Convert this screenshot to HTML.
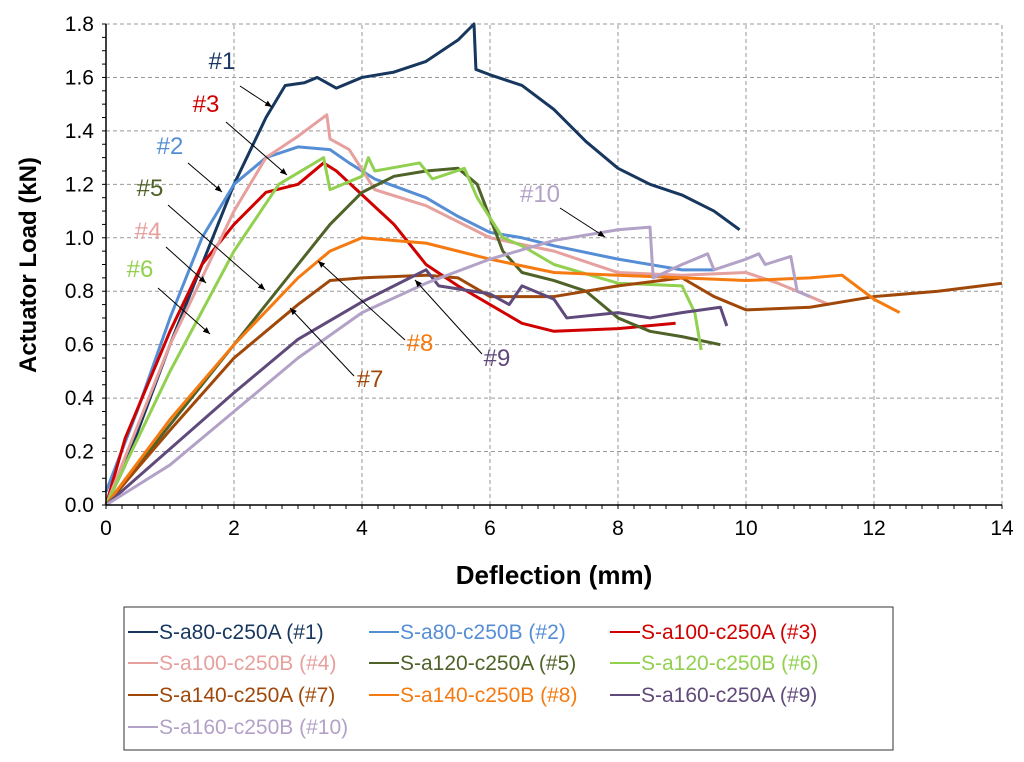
<!DOCTYPE html>
<html><head><meta charset="utf-8"><style>
html,body{margin:0;padding:0;background:#fff;}
svg{display:block;font-family:"Liberation Sans",Arial,sans-serif;}
</style></head><body>
<svg id="chart" width="1024" height="762"></svg>
<script>
const xTicks=[0,2,4,6,8,10,12,14];
const yTicks=[0,0.2,0.4,0.6,0.8,1.0,1.2,1.4,1.6,1.8];
const seriesNames=["S-a80-c250A (#1)","S-a80-c250B (#2)","S-a100-c250A (#3)","S-a100-c250B (#4)","S-a120-c250A (#5)","S-a120-c250B (#6)","S-a140-c250A (#7)","S-a140-c250B (#8)","S-a160-c250A (#9)","S-a160-c250B (#10)"];
const seriesColors=["#17375e","#558ed5","#d00000","#e6a09e","#4f6228","#92d050","#a0480a","#f57a10","#604a7b","#b3a2c7"];
const s1=[[0,0],[0.3,0.15],[1,0.6],[2,1.2],[2.5,1.45],[2.8,1.57],[3.1,1.58],[3.3,1.6],[3.6,1.56],[4,1.6],[4.5,1.62],[5,1.66],[5.5,1.74],[5.75,1.8],[5.78,1.63],[6,1.61],[6.5,1.57],[7,1.48],[7.5,1.36],[8,1.26],[8.5,1.2],[9,1.16],[9.5,1.1],[9.9,1.03]];
const s2=[[0,0.05],[0.5,0.36],[1,0.7],[1.5,1.0],[2,1.2],[2.5,1.3],[3,1.34],[3.5,1.33],[3.8,1.28],[4.2,1.22],[5,1.15],[5.5,1.08],[6,1.02],[6.5,1.0],[7,0.97],[8,0.92],[9,0.88],[9.5,0.88]];
const s3=[[0,0],[0.3,0.25],[1,0.65],[1.5,0.9],[2,1.05],[2.5,1.17],[3,1.2],[3.4,1.28],[3.6,1.25],[4.5,1.05],[5,0.9],[5.5,0.82],[6,0.75],[6.5,0.68],[7,0.65],[8,0.66],[8.9,0.68]];
const s4=[[0,0],[1,0.6],[2,1.1],[2.5,1.3],[3,1.38],[3.45,1.46],[3.5,1.37],[3.8,1.33],[4.2,1.18],[5,1.12],[6,1.0],[7,0.95],[8,0.87],[9,0.86],[10,0.87],[10.5,0.83],[11,0.78],[11.3,0.75]];
const s5=[[0,0],[1,0.3],[2,0.6],[3,0.9],[3.5,1.05],[4,1.17],[4.5,1.23],[5,1.25],[5.5,1.26],[5.8,1.2],[6.2,0.95],[6.5,0.87],[7,0.84],[7.5,0.8],[8,0.7],[8.5,0.65],[9,0.63],[9.6,0.6]];
const s6=[[0,0],[1,0.5],[2,0.95],[2.7,1.2],[3.4,1.3],[3.5,1.18],[4,1.23],[4.1,1.3],[4.2,1.25],[4.9,1.28],[5.1,1.22],[5.6,1.26],[5.8,1.15],[6.2,1.0],[6.5,0.97],[7,0.9],[8,0.83],[9,0.82],[9.2,0.72],[9.3,0.58]];
const s7=[[0,0],[1,0.28],[2,0.55],[3,0.75],[3.5,0.84],[4,0.85],[5,0.86],[5.5,0.85],[6,0.78],[7,0.78],[8,0.82],[9,0.85],[9.5,0.78],[10,0.73],[11,0.74],[12,0.78],[13,0.8],[14,0.83]];
const s8=[[0,0],[1,0.32],[2,0.6],[3,0.85],[3.5,0.95],[4,1.0],[4.5,0.99],[5,0.98],[5.5,0.95],[6,0.92],[7,0.87],[8,0.86],[9,0.85],[10,0.84],[11,0.85],[11.5,0.86],[12,0.77],[12.4,0.72]];
const s9=[[0,0],[2,0.42],[3,0.62],[4,0.76],[4.5,0.82],[5,0.88],[5.2,0.82],[6,0.79],[6.3,0.75],[6.5,0.82],[7,0.77],[7.2,0.7],[8,0.72],[8.5,0.7],[9,0.72],[9.6,0.74],[9.7,0.67]];
const s10=[[0,0],[1,0.15],[2,0.35],[3,0.55],[4,0.72],[5,0.83],[6,0.92],[7,0.99],[8,1.03],[8.5,1.04],[8.55,0.85],[9,0.9],[9.4,0.94],[9.5,0.88],[10,0.92],[10.2,0.94],[10.3,0.9],[10.7,0.93],[10.8,0.8],[11,0.78]];
const allSeries=[s1,s2,s3,s4,s5,s6,s7,s8,s9,s10];
const annoText=["#1","#2","#3","#4","#5","#6","#7","#8","#9","#10"];

const NS="http://www.w3.org/2000/svg";
const svg=document.getElementById('chart');
const X0=106,X1=1002,Y0=505,Y1=24;
const sx=v=>X0+(X1-X0)*v/14;
const sy=v=>Y0-(Y0-Y1)*v/1.8;
function mk(tag,attrs,parent){const e=document.createElementNS(NS,tag);for(const k in attrs)e.setAttribute(k,attrs[k]);(parent||svg).appendChild(e);return e;}

const defs=mk('defs',{});
const mark=mk('marker',{id:'arr',markerWidth:8,markerHeight:8,refX:7,refY:4,orient:'auto',markerUnits:'userSpaceOnUse'},defs);
mk('path',{d:'M0,1 L7,4 L0,7 z',fill:'#000'},mark);

const grid=mk('g',{});


yTicks.forEach(t=>{if(t>0)mk('line',{x1:X0,x2:X1,y1:sy(t),y2:sy(t),stroke:'#999','stroke-dasharray':'4,3','stroke-width':1},grid);});
xTicks.forEach(t=>{if(t>0)mk('line',{x1:sx(t),x2:sx(t),y1:Y0,y2:Y1,stroke:'#999','stroke-dasharray':'4,3','stroke-width':1},grid);});

for(let i=0;i<=36;i++){const y=sy(i*0.05);mk('line',{x1:X0-4,x2:X0,y1:y,y2:y,stroke:'#000'});}
for(let i=0;i<=56;i++){const x=sx(i*0.25);mk('line',{x1:x,x2:x,y1:Y0,y2:Y0+4,stroke:'#000'});}

allSeries.forEach((s,i)=>{
  const p=mk('polyline',{points:s.map(d=>sx(d[0])+','+sy(d[1])).join(' '),fill:'none',stroke:seriesColors[i],'stroke-width':3,'stroke-linejoin':'round'});
  
  
});

mk('line',{x1:X0,x2:X0,y1:Y0,y2:Y1,stroke:'#000','stroke-width':1.5});
mk('line',{x1:X0,x2:X1,y1:Y0,y2:Y0,stroke:'#000','stroke-width':1.5});
xTicks.forEach(t=>{const e=mk('text',{x:sx(t),y:Y0+30,'text-anchor':'middle','font-size':21,fill:'#000'});e.textContent=t;
  });
yTicks.forEach(t=>{const e=mk('text',{x:X0-12,y:sy(t)+7,'text-anchor':'end','font-size':21,fill:'#000'});e.textContent=t.toFixed(1);
  });
const xt=mk('text',{x:554,y:584,'text-anchor':'middle','font-size':26,'font-weight':'bold'});xt.textContent='Deflection (mm)';

const yt=mk('text',{x:0,y:0,'text-anchor':'middle','font-size':24,'font-weight':'bold',transform:'translate(36,265) rotate(-90)'});yt.textContent='Actuator Load (kN)';


const anno=[[222,68,240,86,272,107],[170,153,188,163,222,192],[206,111,226,122,287,175],[148,238,166,247,206,283],[150,195,168,205,265,290],[140,276,158,288,210,334],[370,386,354,376,290,308],[420,350,405,340,318,261],[497,365,482,354,415,280],[540,201,560,208,605,237]];
anno.forEach((a,i)=>{
  mk('line',{x1:a[2],y1:a[3],x2:a[4],y2:a[5],stroke:'#000','stroke-width':1,'marker-end':'url(#arr)'});
  const e=mk('text',{x:a[0],y:a[1]+1,'text-anchor':'middle','font-size':24,fill:seriesColors[i]});e.textContent=annoText[i];
  
});

const lg=mk('g',{});


mk('rect',{x:124,y:607,width:769,height:143,fill:'#fff',stroke:'#333','stroke-width':1},lg);
const colX=[128,369,610],rowY=[632,663,695,727];
seriesNames.forEach((n,i)=>{
  const cx=colX[i%3],cy=rowY[Math.floor(i/3)];
  mk('line',{x1:cx,x2:cx+30,y1:cy,y2:cy,stroke:seriesColors[i],'stroke-width':2},lg);
  const e=mk('text',{x:cx+31,y:cy+7,'font-size':21,fill:seriesColors[i]},lg);e.textContent=n;
  
});
</script>
</body></html>
